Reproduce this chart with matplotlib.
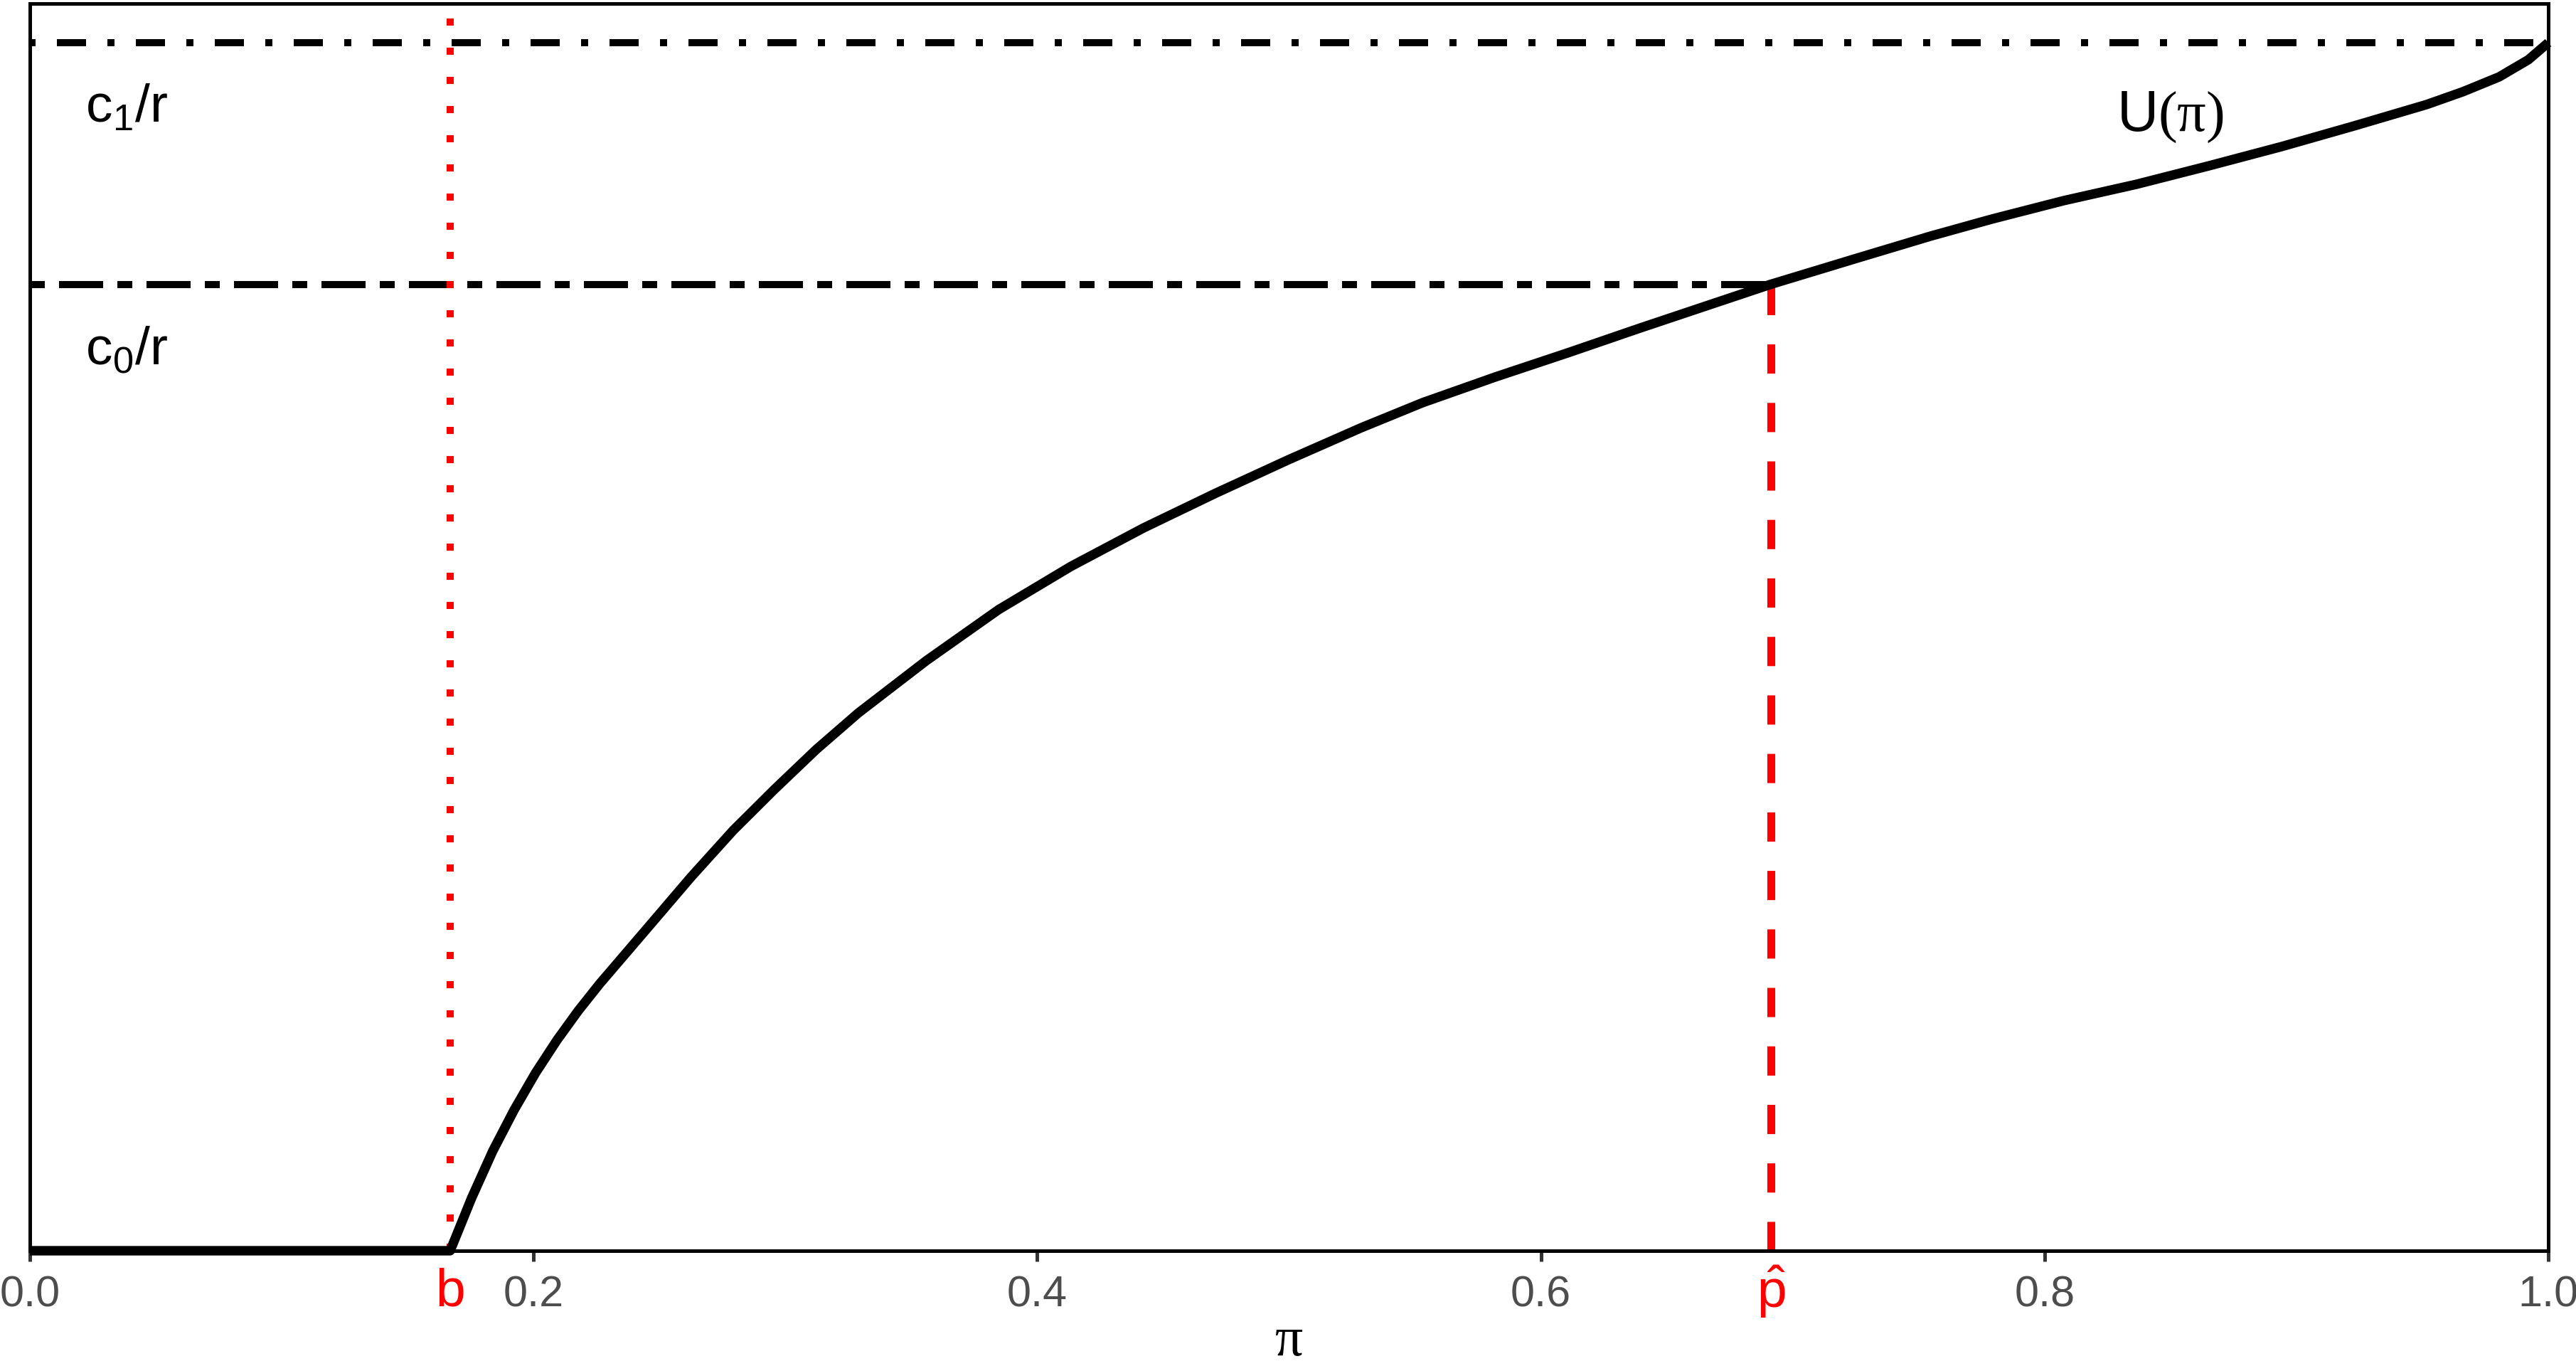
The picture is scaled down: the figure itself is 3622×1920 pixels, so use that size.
import matplotlib
matplotlib.use("Agg")
import matplotlib.pyplot as plt
import matplotlib.transforms as mtransforms

plt.rcParams["font.family"] = ["Liberation Sans", "DejaVu Sans"]
plt.rcParams["mathtext.fontset"] = "custom"
plt.rcParams["mathtext.rm"] = "Liberation Sans"
plt.rcParams["mathtext.sf"] = "Liberation Serif"

# value function U(pi)
pi_vals = [0.0, 0.1669, 0.1754, 0.1838, 0.1923, 0.2008, 0.2093, 0.2177,
           0.2262, 0.2347, 0.2460, 0.2626, 0.2793, 0.2957, 0.3123, 0.3290,
           0.3558, 0.3846, 0.4134, 0.4422, 0.4710, 0.4999, 0.5287, 0.5530,
           0.5818, 0.6106, 0.6394, 0.6682, 0.6913, 0.7258, 0.7546, 0.7789,
           0.8077, 0.8365, 0.8653, 0.8941, 0.9229, 0.9517, 0.9661, 0.9805,
           0.9921, 1.0]
u_vals = [0.0, 0.0, 0.0436, 0.0825, 0.1166, 0.1472, 0.1743, 0.1985,
          0.2208, 0.2415, 0.2690, 0.3095, 0.3480, 0.3820, 0.4150, 0.4452,
          0.4882, 0.5306, 0.5665, 0.5983, 0.6272, 0.6549, 0.6813, 0.7020,
          0.7232, 0.7432, 0.7638, 0.7839, 0.8000, 0.8218, 0.8398, 0.8539,
          0.8693, 0.8828, 0.8981, 0.9140, 0.9311, 0.9488, 0.9594, 0.9717,
          0.9859, 1.0]

b = 0.1669
p_hat = 0.6913
c1_r = 1.0
c0_r = 0.8000

x_ticks = [0.0, 0.2, 0.4, 0.6, 0.8, 1.0]
x_tick_labels = ["0.0", "0.2", "0.4", "0.6", "0.8", "1.0"]

fig = plt.figure(figsize=(18.115, 9.6), dpi=200)
ax = fig.add_axes([0.01159, 0.08438, 0.97737, 0.91302])

ax.axhline(c1_r, color="black", lw=3.6, linestyle=(7.3, (4.1, 3.0, 1.0, 3.0)))
ax.hlines(c0_r, 0, p_hat, color="black", lw=3.6,
          linestyle=(8.2, (6.2, 2.0, 2.1, 2.0)))
ax.axvline(b, color="#ff0000", lw=3.6, linestyle=(0, (1.0, 3.1)))
ax.vlines(p_hat, 0, c0_r, color="#ff0000", lw=4.0, linestyle=(0, (3.7, 3.7)))

ax.plot(pi_vals, u_vals, color="black", lw=4.8, clip_on=False,
        solid_capstyle="butt", solid_joinstyle="round", zorder=5)

ax.set_xlim(0, 1)
ax.set_ylim(0, 1.0324)
ax.set_xticks(x_ticks)
ax.set_xticklabels(x_tick_labels)
ax.set_yticks([])
ax.tick_params(axis="x", length=5.4, width=1.8, color="#333333",
               labelcolor="#4d4d4d", labelsize=22, pad=7)
for s in ax.spines.values():
    s.set_linewidth(1.8)
    s.set_color("black")

ax.text(0.022, 0.934, r"$\mathrm{c}_1/\mathrm{r}$", fontsize=27, va="baseline")
ax.text(0.022, 0.7338, r"$\mathrm{c}_0/\mathrm{r}$", fontsize=27, va="baseline")
ax.text(0.8286, 0.927, r"$\mathrm{U}\mathsf{(\pi)}$", fontsize=29,
        va="baseline")

trans = mtransforms.blended_transform_factory(ax.transData, ax.transAxes)
ax.text(b, -0.033, "b", color="#ff0000", fontsize=27, ha="center",
        va="center", transform=trans, clip_on=False)
ax.text(p_hat, -0.033, r"$\hat{\mathrm{p}}$", color="#ff0000", fontsize=27,
        ha="center", va="center", transform=trans, clip_on=False)
ax.text(0.5, -0.093, r"$\mathsf{\pi}$", fontsize=28,
        ha="center", va="bottom", transform=ax.transAxes)

fig.savefig("out.png", dpi=200)
